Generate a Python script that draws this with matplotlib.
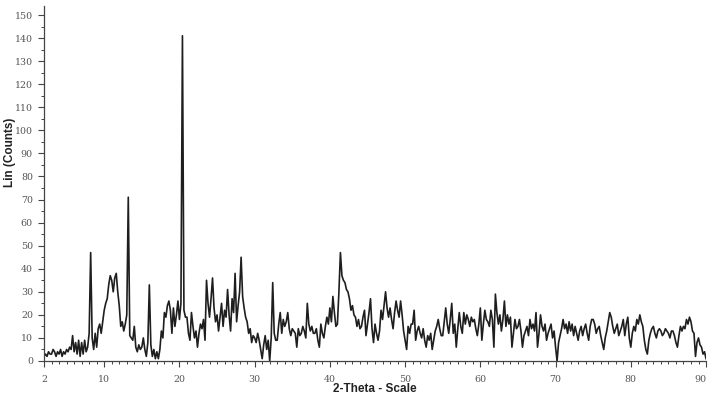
import numpy as np
import matplotlib
matplotlib.use("Agg")
import matplotlib.pyplot as plt
from matplotlib.ticker import MultipleLocator, FixedLocator

# XRD scan, counts at 0.2 deg steps (2-Theta)
step = 0.2
start = 2.0

counts_02_20 = [2, 3, 2, 4, 3, 3, 5, 4, 2, 4, 3, 5, 2, 4, 3, 5, 4, 6, 5, 11,
                4, 8, 3, 9, 2, 8, 3, 9, 4, 6, 12, 47, 10, 5, 12, 6, 14, 16, 12, 17,
                22, 25, 27, 33, 37, 35, 30, 36, 38, 30, 24, 15, 17, 13, 16,
                20, 71, 11, 10, 9, 15, 6, 4, 7, 5, 6, 10, 5, 2, 8,
                33, 7, 2, 5, 1, 4, 1, 5, 13, 10, 21, 19, 24, 26, 22, 12, 23, 15, 20, 26]
counts_20_40 = [18, 25, 141, 22, 19, 19, 12, 9, 21, 15, 10, 13, 6, 12, 16,
                14, 18, 9, 35, 25, 19, 27, 36, 23, 17, 20, 13, 19, 25, 15,
                22, 19, 31, 20, 13, 27, 21, 38, 17, 24, 30, 45, 28, 23, 19,
                17, 12, 14, 8, 11, 10, 8, 12, 9, 5, 1, 7, 11, 5, 9,
                0, 10, 34, 12, 9, 9, 16, 21, 12, 18, 15, 17, 21, 14, 11,
                14, 13, 12, 6, 14, 11, 12, 15, 13, 10, 25, 16, 13, 15, 12,
                12, 14, 9, 6, 16, 12, 10, 15, 19, 16]
counts_40_60 = [23, 17, 28, 21, 15, 16, 30, 47, 37, 35, 34, 31, 30, 27, 22,
                24, 20, 19, 15, 18, 14, 15, 19, 22, 11, 16, 21, 27, 14, 8,
                16, 12, 9, 13, 22, 18, 24, 30, 23, 19, 23, 18, 14, 21, 26,
                22, 19, 26, 20, 13, 9, 5, 15, 12, 16, 16, 22, 9, 13, 15,
                12, 10, 14, 9, 6, 11, 9, 12, 5, 9, 13, 15, 18, 14, 11,
                11, 17, 23, 16, 12, 18, 25, 12, 16, 6, 14, 21, 15, 12, 21,
                16, 20, 18, 15, 19, 17, 18, 14, 11, 16]
counts_60_80 = [23, 9, 16, 22, 18, 17, 15, 22, 18, 6, 29, 21, 16, 20, 13,
                18, 26, 15, 20, 16, 19, 6, 12, 18, 14, 15, 18, 13, 6, 11,
                13, 15, 11, 18, 14, 16, 13, 21, 6, 12, 20, 15, 13, 16, 9,
                12, 14, 16, 10, 13, 6, 0, 8, 11, 14, 18, 14, 16, 12, 17,
                13, 16, 11, 15, 12, 9, 13, 15, 11, 14, 16, 12, 9, 15, 18,
                18, 16, 12, 14, 15, 11, 8, 5, 10, 13, 17, 21, 19, 15, 12,
                14, 16, 11, 13, 15, 18, 11, 16, 19, 10]
counts_80_90 = [6, 12, 15, 13, 18, 16, 20, 17, 15, 9, 5, 3, 9, 12, 14,
                15, 12, 10, 13, 14, 13, 11, 12, 14, 13, 12, 10, 13, 13, 11,
                8, 6, 11, 15, 13, 15, 14, 18, 16, 19, 17, 13, 12, 2, 8,
                10, 7, 6, 3, 4, 1]

counts = np.array(counts_02_20 + counts_20_40 + counts_40_60 + counts_60_80 + counts_80_90)
two_theta = start + step * np.arange(len(counts))

x_ticks = [2, 10, 20, 30, 40, 50, 60, 70, 80, 90]

fig = plt.figure(figsize=(7.1, 4.0), dpi=100)
ax = fig.add_axes([0.062, 0.0975, 0.9324, 0.888])

ax.plot(two_theta, counts, color="#1e1e1e", lw=1.2)

ax.set_xlim(2, 90)
ax.set_ylim(0, 154)

for side in ["top", "right"]:
    ax.spines[side].set_visible(False)
for side in ["left", "bottom"]:
    ax.spines[side].set_color("#444444")
    ax.spines[side].set_linewidth(0.9)

ax.xaxis.set_major_locator(FixedLocator(x_ticks))
ax.xaxis.set_minor_locator(MultipleLocator(1))
ax.yaxis.set_major_locator(MultipleLocator(10))
ax.yaxis.set_minor_locator(MultipleLocator(5))

ax.tick_params(axis="both", which="major", direction="out", length=4, width=0.8,
               color="#444444", labelcolor="#555555", labelsize=7)
ax.tick_params(axis="both", which="minor", direction="out", length=2.5, width=0.7,
               color="#444444")
ax.tick_params(axis="x", pad=6)
ax.tick_params(axis="y", pad=4)

fig.canvas.draw()
for lab in ax.get_xticklabels() + ax.get_yticklabels():
    lab.set_family("DejaVu Serif")
    lab.set_fontsize(6.8)
# last x label sits flush with the axis end, as in the original
ax.get_xticklabels()[-1].set_horizontalalignment("right")

ax.set_xlabel("2-Theta - Scale", fontsize=8.5, fontweight="bold",
              family="Liberation Sans", color="#222222")
ax.set_ylabel("Lin (Counts)", fontsize=8.5, fontweight="bold",
              family="Liberation Sans", color="#222222")
ax.xaxis.set_label_coords(0.5, -0.062)
ax.yaxis.set_label_coords(-0.043, 0.588)

fig.savefig("out.png", dpi=100, facecolor="white")
